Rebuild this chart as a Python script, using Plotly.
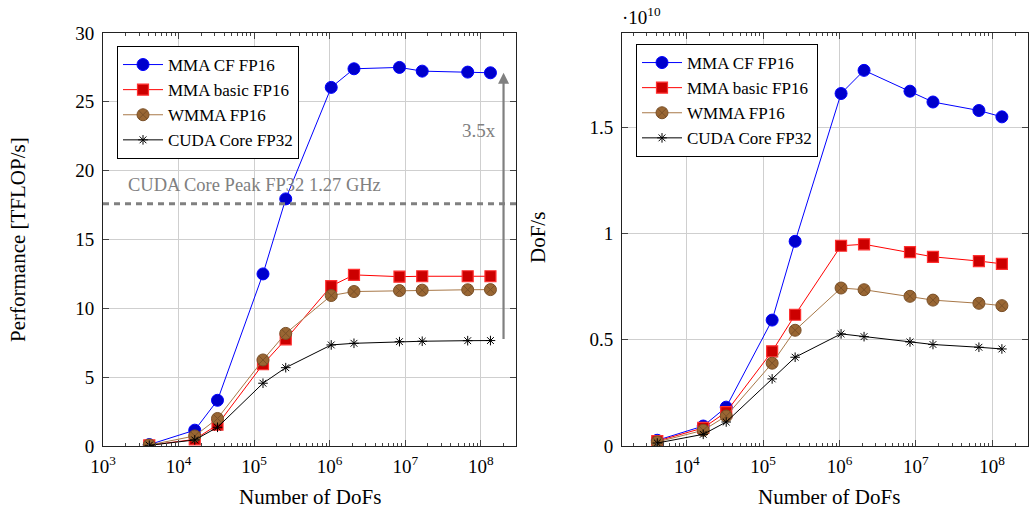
import math
import plotly.graph_objects as go

# ---------------- data ----------------
dofs = [4096, 16384, 32768, 131072, 262144, 1048576, 2097152,
        8388608, 16777216, 67108864, 134217728]
series_names = ["MMA CF FP16", "MMA basic FP16", "WMMA FP16", "CUDA Core FP32"]

# Performance [TFLOP/s]
tflops_mma_cf = [0.10, 1.15, 3.32, 12.50, 17.95, 26.05, 27.40, 27.50, 27.23, 27.16, 27.11]
tflops_mma_basic = [0.05, 0.48, 1.55, 5.94, 7.75, 11.62, 12.43, 12.30, 12.33, 12.33, 12.33]
tflops_wmma = [0.07, 0.73, 2.00, 6.25, 8.18, 10.93, 11.22, 11.29, 11.32, 11.35, 11.36]
tflops_cuda = [0.05, 0.44, 1.36, 4.56, 5.69, 7.34, 7.46, 7.58, 7.61, 7.65, 7.66]

# DoF/s
dofps_mma_cf = [0.027e10, 0.094e10, 0.183e10, 0.593e10, 0.964e10, 1.660e10,
                1.769e10, 1.671e10, 1.620e10, 1.580e10, 1.550e10]
dofps_mma_basic = [0.023e10, 0.085e10, 0.160e10, 0.446e10, 0.618e10, 0.943e10,
                   0.950e10, 0.913e10, 0.891e10, 0.871e10, 0.858e10]
dofps_wmma = [0.019e10, 0.074e10, 0.141e10, 0.390e10, 0.545e10, 0.744e10,
              0.736e10, 0.705e10, 0.687e10, 0.672e10, 0.661e10]
dofps_cuda = [0.014e10, 0.055e10, 0.113e10, 0.316e10, 0.418e10, 0.528e10,
              0.515e10, 0.490e10, 0.478e10, 0.465e10, 0.457e10]

peak_fp32 = 17.6
peak_label = "CUDA Core Peak FP32 1.27 GHz"
speedup_label = "3.5x"

x_tick_vals_left = [1e3, 1e4, 1e5, 1e6, 1e7, 1e8]
x_tick_text_left = ["10<sup>3</sup>", "10<sup>4</sup>", "10<sup>5</sup>",
                    "10<sup>6</sup>", "10<sup>7</sup>", "10<sup>8</sup>"]
x_tick_vals_right = [1e4, 1e5, 1e6, 1e7, 1e8]
x_tick_text_right = ["10<sup>4</sup>", "10<sup>5</sup>", "10<sup>6</sup>",
                     "10<sup>7</sup>", "10<sup>8</sup>"]
y_tick_vals_left = [0, 5, 10, 15, 20, 25, 30]
y_tick_vals_right = [0, 0.5e10, 1.0e10, 1.5e10]
y_tick_text_right = ["0", "0.5", "1", "1.5"]

# ---------------- styling ----------------
W, H = 1029, 513
FONT = "Liberation Serif"
GRAY = "#808080"

styles = [
    dict(line=dict(color="#0000ff", width=1),
         marker=dict(symbol="circle", size=12, color="#0000cc",
                     line=dict(color="#0000ff", width=1))),
    dict(line=dict(color="#ff0000", width=1),
         marker=dict(symbol="square", size=11, color="#cc0000",
                     line=dict(color="#ff3030", width=1.2))),
    dict(line=dict(color="#a87848", width=1),
         marker=dict(symbol="circle-x", size=12, color="#996633",
                     line=dict(color="#7a5028", width=1))),
    dict(line=dict(color="#000000", width=1),
         marker=dict(symbol="asterisk-open", size=8, color="#000000",
                     line=dict(color="#000000", width=1))),
]

def px_x(p):
    return p / W

def px_y(p):
    return 1 - p / H

fig = go.Figure()

left_series = [tflops_mma_cf, tflops_mma_basic, tflops_wmma, tflops_cuda]
right_series = [dofps_mma_cf, dofps_mma_basic, dofps_wmma, dofps_cuda]

for name, ys, st in zip(series_names, left_series, styles):
    fig.add_trace(go.Scatter(x=dofs, y=ys, name=name, mode="lines+markers",
                             xaxis="x", yaxis="y", legend="legend",
                             line=st["line"], marker=st["marker"]))
for name, ys, st in zip(series_names, right_series, styles):
    fig.add_trace(go.Scatter(x=dofs, y=ys, name=name, mode="lines+markers",
                             xaxis="x2", yaxis="y2", legend="legend2",
                             line=st["line"], marker=st["marker"]))

axis_common = dict(
    automargin=False,
    showline=True, linecolor="#222222", linewidth=1, mirror="allticks",
    ticks="inside", ticklen=6, tickcolor="#444444", tickwidth=1,
    showgrid=True, gridcolor="#cfcfcf", gridwidth=1, zeroline=False,
    tickfont=dict(family=FONT, size=19, color="#000000"),
)
x_common = dict(axis_common, type="log",
                minor=dict(ticks="inside", ticklen=3, dtick="D1",
                           tickcolor="#444444", showgrid=False),
                ticklabelstandoff=3)

fig.update_layout(
    width=W, height=H,
    margin=dict(l=0, r=0, t=0, b=0, autoexpand=False),
    paper_bgcolor="white", plot_bgcolor="white",
    font=dict(family=FONT, size=16, color="#000000"),
    xaxis=dict(x_common, domain=[px_x(103), px_x(516)], range=[3, 8.466],
               tickvals=x_tick_vals_left, ticktext=x_tick_text_left, anchor="y"),
    yaxis=dict(axis_common, domain=[px_y(446), px_y(33)], range=[0, 30],
               tickvals=y_tick_vals_left, anchor="x", ticklabelstandoff=4),
    xaxis2=dict(x_common, domain=[px_x(622), px_x(1028)], range=[3.15, 8.47],
                tickvals=x_tick_vals_right, ticktext=x_tick_text_right, anchor="y2"),
    yaxis2=dict(axis_common, domain=[px_y(446), px_y(33)], range=[0, 1.945e10],
                tickvals=y_tick_vals_right, ticktext=y_tick_text_right,
                anchor="x2", ticklabelstandoff=4),
    legend=dict(x=px_x(117), y=px_y(46), xanchor="left", yanchor="top",
                bgcolor="white", bordercolor="#000000", borderwidth=1,
                font=dict(family=FONT, size=17), itemwidth=40,
                tracegroupgap=0),
    legend2=dict(x=px_x(636), y=px_y(44), xanchor="left", yanchor="top",
                 bgcolor="white", bordercolor="#000000", borderwidth=1,
                 font=dict(family=FONT, size=17), itemwidth=40,
                 tracegroupgap=0),
    showlegend=True,
)

fig.add_shape(type="line", xref="x domain", yref="y", x0=0, x1=1,
              y0=peak_fp32, y1=peak_fp32,
              line=dict(color=GRAY, width=3, dash="6px,5px"), layer="above")

arrow_x = math.log10(2.0e8)
annotations = [
    dict(x=px_x(18), y=px_y(240), xref="paper", yref="paper",
         xanchor="center", yanchor="middle",
         text="Performance [TFLOP/s]", textangle=-90, showarrow=False,
         font=dict(family=FONT, size=21)),
    dict(x=px_x(538), y=px_y(238), xref="paper", yref="paper",
         xanchor="center", yanchor="middle",
         text="DoF/s", textangle=-90, showarrow=False,
         font=dict(family=FONT, size=21)),
    dict(x=px_x(310), y=px_y(497), xref="paper", yref="paper",
         xanchor="center", yanchor="middle",
         text="Number of DoFs", showarrow=False, font=dict(family=FONT, size=21)),
    dict(x=px_x(829), y=px_y(497), xref="paper", yref="paper",
         xanchor="center", yanchor="middle",
         text="Number of DoFs", showarrow=False, font=dict(family=FONT, size=21)),
    dict(x=px_x(126), y=px_y(185), xref="paper", yref="paper",
         xanchor="left", yanchor="middle",
         text=peak_label, showarrow=False, font=dict(family=FONT, size=18.5, color=GRAY)),
    dict(x=px_x(479), y=px_y(130), xref="paper", yref="paper",
         xanchor="center", yanchor="middle",
         text=speedup_label, showarrow=False, font=dict(family=FONT, size=19, color=GRAY)),
    dict(x=arrow_x, y=tflops_mma_cf[-1], xref="x", yref="y",
         ax=arrow_x, ay=tflops_cuda[-1], axref="x", ayref="y",
         text="", showarrow=True, arrowhead=2, arrowsize=1, arrowwidth=2.2,
         arrowcolor=GRAY),
    dict(x=px_x(620), y=px_y(16), xref="paper", yref="paper",
         xanchor="left", yanchor="middle",
         text="\u00b710<sup>10</sup>", showarrow=False, font=dict(family=FONT, size=19)),
]
fig.update_layout(annotations=annotations)

fig.write_html("out.html")
